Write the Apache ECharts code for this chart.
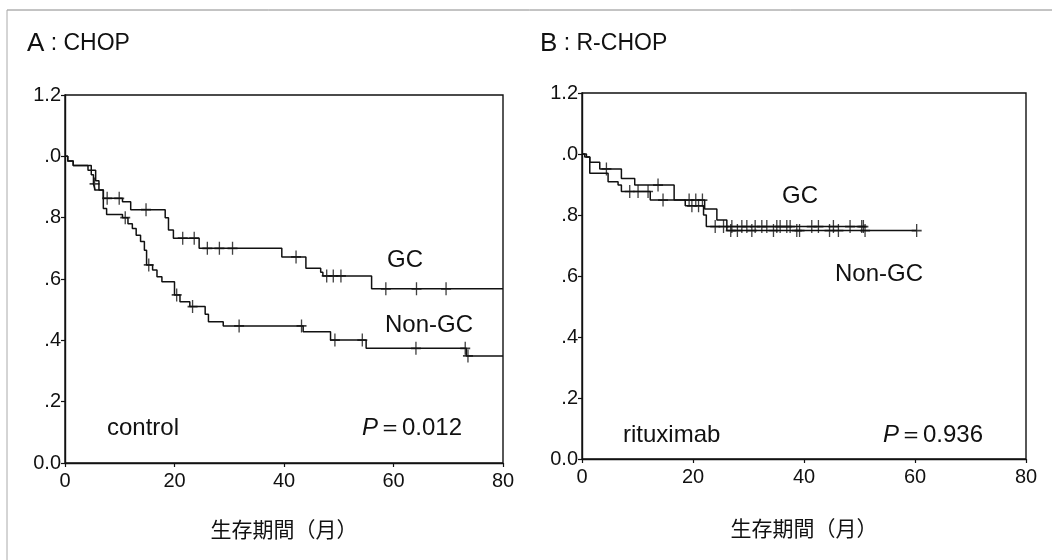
<!DOCTYPE html>
<html>
<head>
<meta charset="utf-8">
<script src="https://cdn.jsdelivr.net/npm/echarts@6/dist/echarts.min.js"></script>
<style>
  html, body { margin: 0; padding: 0; background: #fff; }
  #chart { width: 1052px; height: 560px; }
</style>
</head>
<body>
<div id="chart"></div>
<script>
// tick labels
const xTicks = [0, 20, 40, 60, 80];
const yTickLabels = ['0.0', '.2', '.4', '.6', '.8', '.0', '1.2'];

// A: CHOP  -- [month, survival after event]
const chopGC = [
  [0, 1.0], [0.5, 0.985], [1.5, 0.97], [4.2, 0.955], [5.6, 0.92], [6.2, 0.89],
  [7.0, 0.863], [10.5, 0.852], [12.0, 0.826], [18.3, 0.80], [18.9, 0.76],
  [19.8, 0.733], [24.5, 0.70], [39.6, 0.672], [44.0, 0.635], [46.7, 0.622],
  [47.1, 0.61], [56.0, 0.568], [80, 0.568]
];
const chopGCCensor = [7.7, 9.9, 14.8, 21.5, 23.6, 26.0, 28.2, 30.6, 42.2, 47.8, 49.0, 50.4, 58.6, 64.2, 69.6];

const chopNonGC = [
  [0, 1.0], [0.5, 0.985], [1.5, 0.97], [4.8, 0.94], [5.2, 0.91], [5.5, 0.89],
  [7.0, 0.83], [7.6, 0.81], [10.5, 0.80], [11.5, 0.78], [12.3, 0.765],
  [13.0, 0.743], [13.8, 0.722], [14.5, 0.694], [14.9, 0.646], [16.0, 0.629],
  [16.8, 0.607], [17.7, 0.591], [20.0, 0.548], [21.0, 0.526], [22.8, 0.51],
  [25.6, 0.485], [26.2, 0.461], [28.9, 0.447], [43.5, 0.428], [48.5, 0.401],
  [55.0, 0.374], [73.3, 0.349], [80, 0.349]
];
const chopNonGCCensor = [5.4, 11.0, 15.3, 20.4, 23.3, 31.8, 43.2, 49.3, 54.3, 64.1, 73.1, 73.6];

// B: R-CHOP
const rchopGC = [
  [0, 1.0], [0.8, 0.99], [1.4, 0.937], [4.7, 0.909], [6.5, 0.898], [7.1, 0.877],
  [12.3, 0.849], [18.6, 0.83], [21.9, 0.80], [22.4, 0.762], [51.0, 0.762]
];
const rchopGCCensor = [8.6, 10.1, 11.9, 14.6, 19.8, 21.0, 24.0, 25.5, 27.0, 28.8, 29.7,
  31.2, 32.4, 33.3, 35.1, 35.7, 36.9, 37.5, 41.4, 42.6, 45.3, 48.3, 50.4, 50.7];

const rchopNonGC = [
  [0, 1.0], [0.5, 0.99], [1.4, 0.973], [3.2, 0.951], [7.1, 0.92], [9.5, 0.898],
  [16.6, 0.849], [22.1, 0.82], [24.3, 0.784], [26.1, 0.749], [60.3, 0.749]
];
const rchopNonGCCensor = [4.4, 13.7, 19.3, 20.5, 21.7, 26.8, 28.0, 30.6, 34.5, 38.7,
  39.2, 44.6, 46.2, 51.0, 60.3];

// value of a step curve at time t
function survAt(curve, t) {
  let v = curve[0][1];
  for (const p of curve) { if (p[0] <= t) v = p[1]; }
  return v;
}

const font = '"Liberation Sans", Arial, sans-serif';
const cjkFont = '"Noto Sans CJK JP", "Noto Sans CJK SC", sans-serif';
const ink = '#111';

function xAxisFor(i) {
  return {
    gridIndex: i, type: 'value', min: 0, max: 80, interval: 20,
    axisLine: { onZero: false, lineStyle: { color: ink, width: 1.4 } },
    axisTick: { length: 4, lineStyle: { color: ink, width: 1.2 } },
    splitLine: { show: false },
    axisLabel: {
      color: ink, fontFamily: font, fontSize: 20, margin: 8,
      formatter: v => xTicks.includes(v) ? String(v) : ''
    }
  };
}
function yAxisFor(i) {
  return {
    gridIndex: i, type: 'value', min: 0, max: 1.2, interval: 0.2,
    axisLine: { show: true, onZero: false, lineStyle: { color: ink, width: 1.4 } },
    axisTick: { show: true, length: 4, lineStyle: { color: ink, width: 1.2 } },
    splitLine: { show: false },
    axisLabel: {
      color: ink, fontFamily: font, fontSize: 20, margin: 4,
      formatter: v => yTickLabels[Math.round(v / 0.2)]
    }
  };
}
function kmLine(i, data) {
  return {
    type: 'line', xAxisIndex: i, yAxisIndex: i, step: 'end', data: data,
    showSymbol: false, silent: true,
    lineStyle: { color: ink, width: 1.5 }
  };
}
const plus = 'path://M5,0L5,10M0,5L10,5';
function censors(i, curve, times) {
  return {
    type: 'scatter', xAxisIndex: i, yAxisIndex: i, silent: true,
    symbol: plus, symbolSize: [10, 13],
    itemStyle: { color: 'none', borderColor: ink, borderWidth: 1.5 },
    data: times.map(t => [t, survAt(curve, t)])
  };
}
function label(text, x, y, size) {
  return {
    type: 'text', x: x, y: y,
    style: { text: text, fill: ink, font: size + 'px ' + font, textVerticalAlign: 'middle' }
  };
}
function pText(val, x, y) {
  return {
    type: 'text', x: x, y: y,
    style: {
      text: '{i|P}{e|＝}{n|' + val + '}', fill: ink, textVerticalAlign: 'middle',
      rich: {
        i: { fontStyle: 'italic', fontSize: 24, fontFamily: font, fill: ink },
        e: { fontSize: 24, fontFamily: font, fill: ink },
        n: { fontSize: 24, fontFamily: font, fill: ink }
      }
    }
  };
}
function panelTitle(letter, name, x) {
  return {
    type: 'text', x: x, y: 44,
    style: {
      text: '{a|' + letter + '}{c| : }{b|' + name + '}', fill: ink, textVerticalAlign: 'middle',
      rich: {
        a: { fontSize: 26, fontFamily: font, fill: ink },
        c: { fontSize: 23, fontFamily: font, fill: ink },
        b: { fontSize: 23, fontFamily: font, fill: ink }
      }
    }
  };
}

const chart = echarts.init(document.getElementById('chart'));
chart.setOption({
  backgroundColor: '#fff',
  animation: false,
  grid: [
    { left: 65, top: 95, width: 438, height: 368, show: true, borderColor: ink, borderWidth: 1.4, backgroundColor: 'transparent' },
    { left: 582, top: 93, width: 444, height: 366, show: true, borderColor: ink, borderWidth: 1.4, backgroundColor: 'transparent' }
  ],
  xAxis: [xAxisFor(0), xAxisFor(1)],
  yAxis: [yAxisFor(0), yAxisFor(1)],
  series: [
    kmLine(0, chopGC), censors(0, chopGC, chopGCCensor),
    kmLine(0, chopNonGC), censors(0, chopNonGC, chopNonGCCensor),
    kmLine(1, rchopGC), censors(1, rchopGC, rchopGCCensor),
    kmLine(1, rchopNonGC), censors(1, rchopNonGC, rchopNonGCCensor)
  ],
  graphic: [
    { type: 'line', shape: { x1: 7, y1: 10, x2: 1052, y2: 10 }, style: { stroke: '#888', lineWidth: 1 } },
    { type: 'line', shape: { x1: 7, y1: 10, x2: 7, y2: 560 }, style: { stroke: '#aaa', lineWidth: 1 } },
    panelTitle('A', 'CHOP', 27),
    panelTitle('B', 'R-CHOP', 540),
    label('GC', 387, 260, 24),
    label('Non-GC', 385, 325, 24),
    label('control', 107, 428, 24),
    pText('0.012', 362, 428),
    label('GC', 782, 196, 24),
    label('Non-GC', 835, 274, 24),
    label('rituximab', 623, 435, 24),
    pText('0.936', 883, 435),
    { type: 'text', x: 284, y: 529, style: { text: '生存期間（月）', fill: ink, font: '21px ' + cjkFont, textAlign: 'center', textVerticalAlign: 'middle' } },
    { type: 'text', x: 804, y: 528, style: { text: '生存期間（月）', fill: ink, font: '21px ' + cjkFont, textAlign: 'center', textVerticalAlign: 'middle' } }
  ]
});
</script>
</body>
</html>
